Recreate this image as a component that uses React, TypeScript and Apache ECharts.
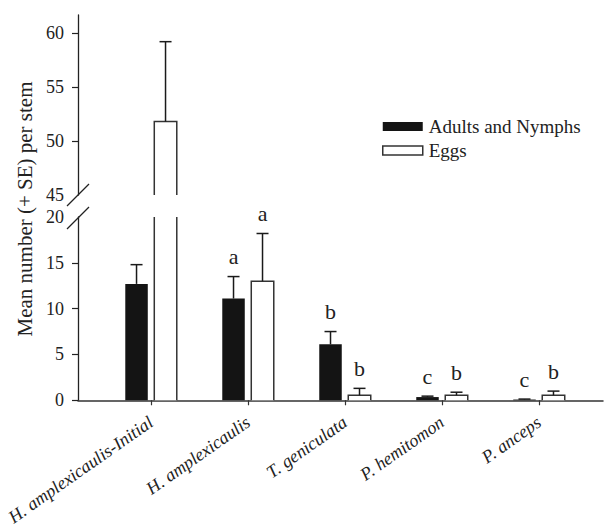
import React, { useEffect, useRef } from "react";
import * as echarts from "echarts";

// ---- data ----
const categories = [
  "H. amplexicaulis-Initial",
  "H. amplexicaulis",
  "T. geniculata",
  "P. hemitomon",
  "P. anceps",
];
const seriesNames = ["Adults and Nymphs", "Eggs"];
const adultsMean = [12.7, 11.1, 6.1, 0.35, 0.08];
const adultsSE = [2.1, 2.4, 1.4, 0.1, 0.05];
const adultsLetters = ["", "a", "b", "c", "c"];
const eggsMean = [51.8, 13.0, 0.55, 0.55, 0.55];
const eggsSE = [7.4, 5.2, 0.75, 0.33, 0.45];
const eggsLetters = ["", "a", "b", "b", "b"];
const lowerTicks = [0, 5, 10, 15];
const lowerLabels = [0, 5, 10, 15, 20];
const upperTicks = [50, 55, 60];
const upperLabels = [45, 50, 55, 60];
const lowerRange = [0, 20];
const upperRange = [45, 61.67];
const categoryPositions = categories.map((_, i) => i + 1);

// ---- layout / style ----
const FONT = "Liberation Serif";
const X_MIN = 0.247;
const X_MAX = 5.66;
const BAR_FRAC = 0.232;
const OFFSET_FRAC = 0.1495;
const CAP_HALF = 6;
const TXT = "#222";

function makeRenderer(
  side: number,
  letters: string[],
  fill: string,
  stroke: string | null
) {
  return (params: any, api: any) => {
    const i = params.dataIndex;
    const cs = params.coordSys;
    const top = cs.y;
    const bottom = cs.y + cs.height;
    const x = api.value(0);
    const v = api.value(1);
    const se = api.value(2);
    const unit = api.size([1, 0])[0];
    const w = unit * BAR_FRAC;
    const cx = api.coord([x, 0])[0] + side * unit * OFFSET_FRAC;
    const yBase = Math.min(api.coord([x, 0])[1], bottom);
    const yVal = api.coord([x, v])[1];
    const yTop = Math.max(yVal, top);
    const children: any[] = [];
    const l = cx - w / 2;
    const r = cx + w / 2;
    if (yTop < yBase) {
      children.push({
        type: "rect",
        shape: { x: l, y: yTop, width: w, height: yBase - yTop },
        style: { fill, stroke: null },
      });
      if (stroke) {
        const ls = { stroke, lineWidth: 1.5, fill: null };
        if (yVal >= top) {
          children.push({
            type: "polyline",
            shape: { points: [[l, yBase], [l, yVal], [r, yVal], [r, yBase]] },
            style: ls,
          });
        } else {
          children.push({ type: "line", shape: { x1: l, y1: yBase, x2: l, y2: top }, style: ls });
          children.push({ type: "line", shape: { x1: r, y1: yBase, x2: r, y2: top }, style: ls });
        }
      }
    }
    const yErr = api.coord([x, v + se])[1];
    const clamp = (y: number) => Math.max(top, Math.min(bottom, y));
    const y1 = clamp(yVal);
    const y2 = clamp(yErr);
    const es = { stroke: "#1a1a1a", lineWidth: 1.5 };
    if (y1 > y2) {
      children.push({ type: "line", shape: { x1: cx, y1, x2: cx, y2 }, style: es });
    }
    if (yErr >= top && yErr <= bottom) {
      children.push({
        type: "line",
        shape: { x1: cx - CAP_HALF, y1: yErr, x2: cx + CAP_HALF, y2: yErr },
        style: es,
      });
      const letter = letters[i];
      if (letter) {
        children.push({
          type: "text",
          x: cx,
          y: yErr - 9,
          style: {
            text: letter,
            align: "center",
            verticalAlign: "bottom",
            fontSize: 22,
            fontFamily: FONT,
            fill: TXT,
          },
        });
      }
    }
    return { type: "group", children };
  };
}

function seriesData(means: number[], ses: number[]) {
  return categoryPositions.map((p, i) => [p, means[i], ses[i]]);
}

export default function App() {
  const ref = useRef<HTMLDivElement>(null);
  useEffect(() => {
    if (!ref.current) return;
    const chart = echarts.init(ref.current, null, { renderer: "svg" });
    const yLabel = { fontSize: 18, fontFamily: FONT, color: TXT, margin: 14 };
    const yLine = { show: true, onZero: false, lineStyle: { color: "#222", width: 1.3 } };
    const groups = [
      { name: seriesNames[0], means: adultsMean, ses: adultsSE, letters: adultsLetters, side: -1, fill: "#141414", stroke: null, border: "#141414" },
      { name: seriesNames[1], means: eggsMean, ses: eggsSE, letters: eggsLetters, side: 1, fill: "#ffffff", stroke: "#333", border: "#333" },
    ];
    const series: any[] = [];
    [0, 1].forEach((gi) => {
      groups.forEach((g) => {
        series.push({
          type: "custom",
          name: g.name,
          xAxisIndex: gi,
          yAxisIndex: gi,
          itemStyle: { color: g.fill, borderColor: g.border },
          renderItem: makeRenderer(g.side, g.letters, g.fill, g.stroke),
          data: seriesData(g.means, g.ses),
        });
      });
    });
    chart.setOption({
      animation: false,
      backgroundColor: "#ffffff",
      textStyle: { fontFamily: FONT },
      grid: [
        { left: 78, top: 217, width: 525, height: 184 },
        { left: 78, top: 15, width: 525, height: 180 },
      ],
      xAxis: [
        {
          type: "value",
          gridIndex: 0,
          min: X_MIN,
          max: X_MAX,
          splitLine: { show: false },
          axisLine: { show: true, onZero: false, lineStyle: { color: "#333", width: 1.5 } },
          axisTick: { show: true, length: 5, customValues: categoryPositions, lineStyle: { color: "#333", width: 1.2 } },
          axisLabel: {
            customValues: categoryPositions,
            formatter: (v: number) => categories[Math.round(v) - 1] ?? "",
            rotate: 35,
            margin: 20,
            fontSize: 18,
            fontStyle: "italic",
            fontFamily: FONT,
            color: TXT,
          },
        },
        {
          type: "value",
          gridIndex: 1,
          min: X_MIN,
          max: X_MAX,
          show: false,
          splitLine: { show: false },
        },
      ],
      yAxis: [
        {
          type: "value",
          gridIndex: 0,
          min: lowerRange[0],
          max: lowerRange[1],
          splitLine: { show: false },
          axisLine: yLine,
          axisTick: { show: true, length: 6, customValues: lowerTicks, lineStyle: { color: "#222", width: 1.2 } },
          axisLabel: { ...yLabel, customValues: lowerLabels },
        },
        {
          type: "value",
          gridIndex: 1,
          min: upperRange[0],
          max: upperRange[1],
          splitLine: { show: false },
          axisLine: yLine,
          axisTick: { show: true, length: 6, customValues: upperTicks, lineStyle: { color: "#222", width: 1.2 } },
          axisLabel: { ...yLabel, customValues: upperLabels },
        },
      ],
      legend: {
        orient: "vertical",
        left: 377,
        top: 112,
        itemWidth: 40,
        itemHeight: 9,
        itemGap: 5,
        selectedMode: false,
        textStyle: { fontSize: 19, fontFamily: FONT, color: TXT, padding: [0, 0, 0, 1] },
        data: [
          { name: seriesNames[0], icon: "rect", itemStyle: { color: "#141414", borderWidth: 0 } },
          { name: seriesNames[1], icon: "rect", itemStyle: { color: "#ffffff", borderColor: "#333", borderWidth: 1.5 } },
        ],
      },
      graphic: [
        {
          type: "text",
          x: 24.5,
          y: 209,
          rotation: Math.PI / 2,
          style: {
            text: "Mean number (+ SE) per stem",
            align: "center",
            verticalAlign: "middle",
            fontSize: 21,
            fontFamily: FONT,
            fill: TXT,
          },
        },
        { type: "line", shape: { x1: 67, y1: 206, x2: 89, y2: 184 }, style: { stroke: "#222", lineWidth: 1.2 } },
        { type: "line", shape: { x1: 67, y1: 229, x2: 89, y2: 207 }, style: { stroke: "#222", lineWidth: 1.2 } },
      ],
      series,
    });
    return () => chart.dispose();
  }, []);
  return (
    <div
      ref={ref}
      style={{ position: "fixed", left: 0, top: 0, width: 605, height: 528, background: "#fff" }}
    />
  );
}
